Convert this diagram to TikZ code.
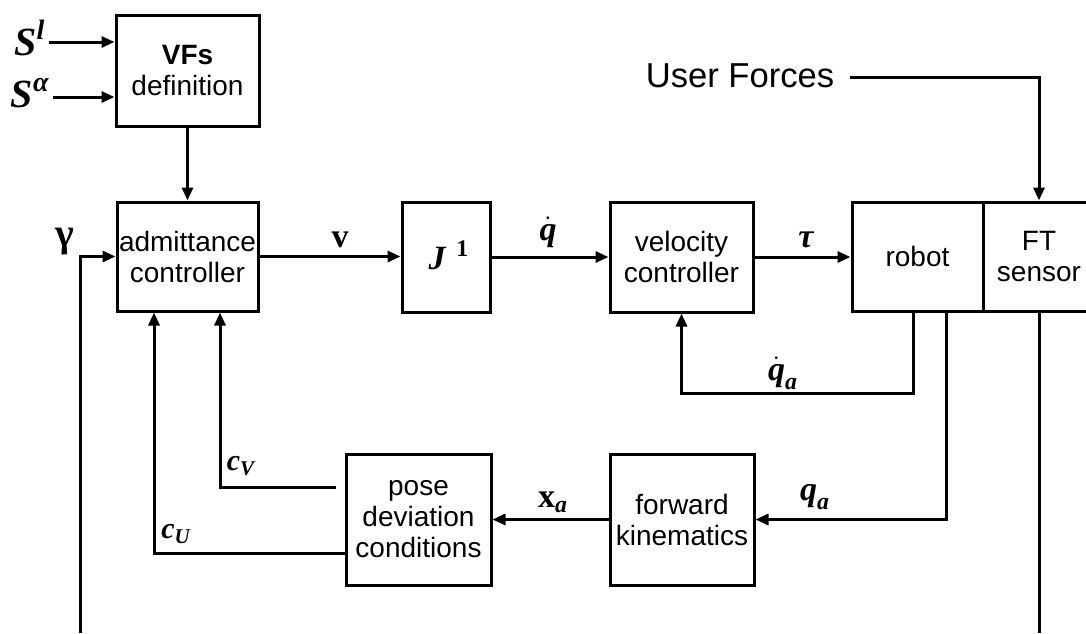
\documentclass[tikz,border=0pt]{standalone}
\usepackage{fontspec}
\usepackage{amsmath}
\setmainfont{Liberation Sans}
\newfontfamily\symfont{Liberation Serif}
% bold italic and bold upright serif symbols
\newcommand{\mbi}[1]{\text{\symfont\bfseries\itshape #1}}
\newcommand{\mbu}[1]{\text{\symfont\bfseries #1}}
\usetikzlibrary{arrows.meta}
\begin{document}
\begin{tikzpicture}[x=0.5pt,y=-0.5pt,
  line width=1.5pt,
  blk/.style={draw, line width=1.5pt, inner sep=0pt, align=center,
    font=\fontsize{14}{15.5}\selectfont},
  arr/.style={-{Triangle[length=6.5pt,width=5.5pt]}},
  lbl/.style={inner sep=0pt, font=\fontsize{17}{19}\selectfont}]
\clip (0,0) rectangle (1086,633);
\fill[white] (0,0) rectangle (1086,633);

% blocks
\node[blk, minimum width=71.5pt, minimum height=55.5pt] (vf) at (187.5,70.5) {\textbf{VFs}\\definition};
\node[blk, minimum width=70.5pt, minimum height=54.5pt] (adm) at (187.5,256.5) {admittance\\controller};
\node[blk, minimum width=44pt, minimum height=55pt] (jinv) at (446,257) {};
\node[lbl] (jlab) at (449,255) {$\mbi{J}^{\,\;\mbu{1}}$};
\node[blk, minimum width=71.5pt, minimum height=55pt] (vel) at (681.5,257) {velocity\\controller};
\node[blk, minimum width=65.5pt, minimum height=54.5pt] (robot) at (917.5,256.5) {robot};
\node[blk, minimum width=56pt, minimum height=54.5pt] (ft) at (1039,256.5) {FT\\sensor};
\node[blk, minimum width=72pt, minimum height=65.5pt] (fk) at (682,519.5) {forward\\kinematics};
\node[blk, minimum width=72.5pt, minimum height=65.5pt] (pose) at (418.5,519.5) {pose\\deviation\\conditions};

% inputs of the VF definition
\node[lbl, anchor=east, font=\fontsize{20}{22}\selectfont] (sl) at (47,38) {$\mbi{S}^{\mbi{l}}$};
\node[lbl, anchor=east, font=\fontsize{20}{22}\selectfont] (sa) at (51,93) {$\mbi{S}^{\mbi{α}}$};
\draw[arr] ([xshift=1pt]sl.east |- 0,42) -- (vf.west |- 0,42);
\draw[arr] ([xshift=1pt]sa.east |- 0,97) -- (vf.west |- 0,97);
\draw[arr] (vf.south) -- (adm.north);

% forward path
\node[lbl, font=\fontsize{20}{22}\selectfont] (gam) at (65,242) {$\mbu{γ}$};
\coordinate (gin) at (80,633);
\draw[arr] (gin) |- (adm.west);
\draw[arr] (adm.east) -- (adm.east -| jinv.west);
\node[lbl] (vlab) at (340,240) {$\mbu{v}$};
\draw[arr] (jinv.east) -- (jinv.east -| vel.west);
\node[lbl] (qdlab) at (548,232) {$\dot{\mbi{q}}$};
\draw[arr] (vel.east) -- (vel.east -| robot.west);
\node[lbl] (taulab) at (806,240) {$\mbi{τ}$};

% user forces into the FT sensor
\node[inner sep=0pt, font=\fontsize{17.3}{19}\selectfont] (uf) at (740,76) {User Forces};
\draw[arr] ([xshift=7pt]uf.east |- 0,77) -| (ft.north);
\draw (ft.south) -- (ft.south |- 0,633);

% velocity feedback
\draw[arr] (robot.south -| 913,0) |- (vel.south |- 0,393) -- (vel.south);
\node[lbl] (qdalab) at (783,373) {$\dot{\mbi{q}}_{\mbi{a}}$};

% joint positions through the kinematics
\draw[arr] (robot.south -| 946,0) |- (fk.east);
\node[lbl] (qalab) at (815,497) {$\mbi{q}_{\mbi{a}}$};
\draw[arr] (fk.west) -- (pose.east);
\node[lbl] (xalab) at (553,502) {$\mbu{x}_{\mbi{a}}$};

% pose deviation conditions back to the admittance controller
\draw[arr] ([xshift=-4.5pt]pose.west |- 0,487) -| (adm.south -| 220,0);
\node[lbl, font=\fontsize{15}{17}\selectfont] (cvlab) at (241,466) {$\mbi{c}_{\mbi{V}}$};
\draw[arr] (pose.west |- 0,553) -| (adm.south -| 154,0);
\node[lbl, font=\fontsize{15}{17}\selectfont] (culab) at (176,534) {$\mbi{c}_{\mbi{U}}$};
\end{tikzpicture}
\end{document}
